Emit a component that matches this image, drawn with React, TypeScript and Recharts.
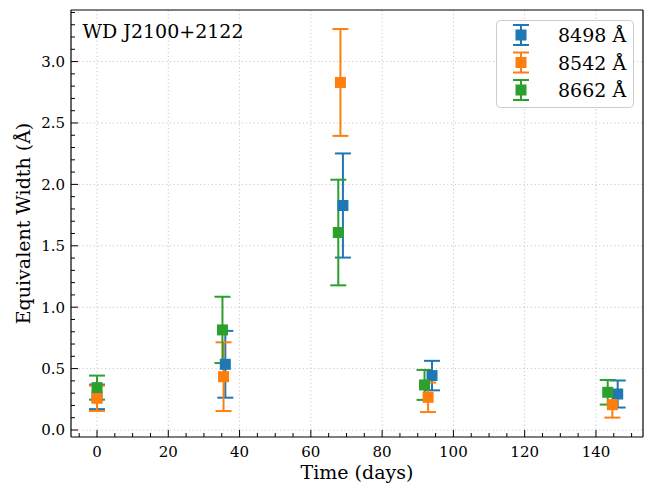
import React from 'react';
import { ScatterChart, Scatter, XAxis, YAxis, ReferenceLine, ErrorBar } from 'recharts';

const FONT = '"DejaVu Serif", serif';

// time (days), equivalent width (Å), 1-sigma error, per line
const blueX = [0, 36, 69, 94, 146.1];
const blueY = [0.27, 0.535, 1.828, 0.443, 0.293];
const blueErr = [0.1, 0.272, 0.424, 0.12, 0.11];

const orangeX = [0, 35.5, 68.3, 92.9, 144.6];
const orangeY = [0.258, 0.434, 2.83, 0.266, 0.206];
const orangeErr = [0.103, 0.28, 0.435, 0.12, 0.105];

const greenX = [0, 35.2, 67.7, 91.9, 143.3];
const greenY = [0.345, 0.815, 1.608, 0.367, 0.307];
const greenErr = [0.098, 0.27, 0.43, 0.122, 0.1];

const seriesNames = ['8498 Å', '8542 Å', '8662 Å'];
const seriesColors = ['#1f77b4', '#ff7f0e', '#2ca02c'];

const xMajor = [0, 20, 40, 60, 80, 100, 120, 140];
const xMinor = [-5, 5, 10, 15, 25, 30, 35, 45, 50, 55, 65, 70, 75, 85, 90, 95, 105, 110, 115, 125, 130, 135, 145, 150];
const yMajor = [0, 0.5, 1, 1.5, 2, 2.5, 3];
const yMinor = [0.1, 0.2, 0.3, 0.4, 0.6, 0.7, 0.8, 0.9, 1.1, 1.2, 1.3, 1.4, 1.6, 1.7, 1.8, 1.9,
  2.1, 2.2, 2.3, 2.4, 2.6, 2.7, 2.8, 2.9, 3.1, 3.2, 3.3, 3.4];

const xDomain = [-7.3, 153.2];
const yDomain = [-0.057, 3.42];

const xTicks = [...xMajor, ...xMinor].sort((a, b) => a - b);
const yTicks = [...yMajor, ...yMinor].sort((a, b) => a - b);

const toPoints = (xs: number[], ys: number[], errs: number[]) =>
  xs.map((x, i) => ({ x, y: ys[i], err: errs[i] }));

const blueData = toPoints(blueX, blueY, blueErr);
const orangeData = toPoints(orangeX, orangeY, orangeErr);
const greenData = toPoints(greenX, greenY, greenErr);

const BottomTick = (props: any) => {
  const { x, y, payload } = props;
  const major = xMajor.includes(payload.value);
  return (
    <g>
      <line x1={x} y1={y} x2={x} y2={y - (major ? 7 : 4)} stroke="#000" strokeWidth={1} />
      {major && (
        <text x={x} y={y + 19.5} textAnchor="middle" fontFamily={FONT} fontSize={15} fill="#000">
          {payload.value}
        </text>
      )}
    </g>
  );
};

const LeftTick = (props: any) => {
  const { x, y, payload } = props;
  const major = yMajor.includes(payload.value);
  return (
    <g>
      <line x1={x} y1={y} x2={x + (major ? 7 : 4)} y2={y} stroke="#000" strokeWidth={1} />
      {major && (
        <text x={x - 6} y={y + 5.4} textAnchor="end" fontFamily={FONT} fontSize={15} fill="#000">
          {Number(payload.value).toFixed(1)}
        </text>
      )}
    </g>
  );
};

const square = (color: string) => (props: any) => {
  const { cx, cy } = props;
  return <rect x={cx - 5.5} y={cy - 5.5} width={11} height={11} fill={color} />;
};

const LegendIcon = ({ cx, cy, color }: { cx: number; cy: number; color: string }) => (
  <g>
    <line x1={cx} y1={cy - 10} x2={cx} y2={cy + 10} stroke={color} strokeWidth={2} />
    <line x1={cx - 8} y1={cy - 10} x2={cx + 8} y2={cy - 10} stroke={color} strokeWidth={2} />
    <line x1={cx - 8} y1={cy + 10} x2={cx + 8} y2={cy + 10} stroke={color} strokeWidth={2} />
    <rect x={cx - 5.5} y={cy - 5.5} width={11} height={11} fill={color} />
  </g>
);

const gridStyle = { stroke: '#c8c8c8', strokeDasharray: '1.2 2.6', strokeWidth: 1 };
const frame = { stroke: '#000', strokeWidth: 1.2 };

export default function App() {
  const rows = [35, 62.5, 90];
  return (
    <div style={{ position: 'absolute', left: 0, top: 0, width: 657, height: 485, background: '#fff' }}>
      <ScatterChart width={657} height={485} margin={{ top: 9, right: 13, bottom: 47, left: 70 }}>
        {xMajor.map((v) => (
          <ReferenceLine key={'gx' + v} x={v} {...gridStyle} />
        ))}
        {yMajor.map((v) => (
          <ReferenceLine key={'gy' + v} y={v} {...gridStyle} />
        ))}
        <XAxis
          type="number" dataKey="x" domain={xDomain} allowDataOverflow ticks={xTicks} interval={0}
          height={1} tickSize={0} tickMargin={0} tickLine={false} tick={<BottomTick />} axisLine={frame}
        />
        <XAxis
          xAxisId="top" orientation="top" type="number" domain={xDomain} allowDataOverflow
          height={1} tick={false} tickLine={false} axisLine={frame}
        />
        <YAxis
          type="number" dataKey="y" domain={yDomain} allowDataOverflow ticks={yTicks} interval={0}
          width={1} tickSize={0} tickMargin={0} tickLine={false} tick={<LeftTick />} axisLine={frame}
        />
        <YAxis
          yAxisId="right" orientation="right" type="number" domain={yDomain} allowDataOverflow
          width={1} tick={false} tickLine={false} axisLine={frame}
        />
        <Scatter data={blueData} dataKey="y" fill={seriesColors[0]} shape={square(seriesColors[0])} isAnimationActive={false}>
          <ErrorBar dataKey="err" direction="y" width={8} strokeWidth={2} stroke={seriesColors[0]} isAnimationActive={false} />
        </Scatter>
        <Scatter data={orangeData} dataKey="y" fill={seriesColors[1]} shape={square(seriesColors[1])} isAnimationActive={false}>
          <ErrorBar dataKey="err" direction="y" width={8} strokeWidth={2} stroke={seriesColors[1]} isAnimationActive={false} />
        </Scatter>
        <Scatter data={greenData} dataKey="y" fill={seriesColors[2]} shape={square(seriesColors[2])} isAnimationActive={false}>
          <ErrorBar dataKey="err" direction="y" width={8} strokeWidth={2} stroke={seriesColors[2]} isAnimationActive={false} />
        </Scatter>
      </ScatterChart>
      <svg width={657} height={485} style={{ position: 'absolute', left: 0, top: 0, pointerEvents: 'none' }}>
        <text x={82.5} y={37.5} fontFamily={FONT} fontSize={19} fill="#000">WD J2100+2122</text>
        <text x={357} y={479} textAnchor="middle" fontFamily={FONT} fontSize={19} fill="#000">Time (days)</text>
        <text x={30} y={223.5} textAnchor="middle" fontFamily={FONT} fontSize={19} fill="#000"
          transform="rotate(-90 30 223.5)">Equivalent Width (Å)</text>
        <rect x={496.5} y={20.5} width={137} height={87} rx={4} fill="#fff" fillOpacity={0.8} stroke="#cccccc" />
        {seriesNames.map((name, i) => (
          <g key={name}>
            <LegendIcon cx={521} cy={rows[i]} color={seriesColors[i]} />
            <text x={558} y={rows[i] + 7} fontFamily={FONT} fontSize={19} fill="#000">{name}</text>
          </g>
        ))}
      </svg>
    </div>
  );
}
